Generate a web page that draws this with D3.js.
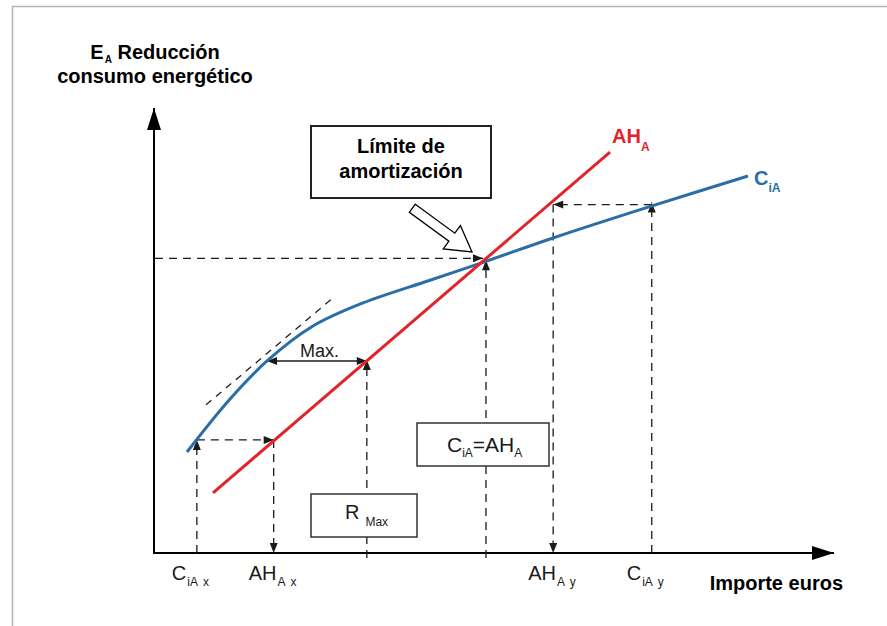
<!DOCTYPE html>
<html><head><meta charset="utf-8">
<script src="https://cdn.jsdelivr.net/npm/d3@7/dist/d3.min.js"></script>
<style>
html,body{margin:0;padding:0;background:#fff;}
svg{display:block;font-family:"Liberation Sans",Arial,Helvetica,sans-serif;}
</style></head>
<body>
<svg id="chart" width="887" height="626"></svg>
<script>
// ---- data (abstract units: importe 0..100, reducción 0..100) ----
const costX  = [4.85, 11.18, 16.62, 23.38, 30.74, 40.59, 48.82, 58.68, 73.24, 87.35];
const costY  = [22.7, 34.6, 43.15, 51.0, 56.2, 61.3, 65.55, 70.79, 78.0, 84.72];
const amortX = [8.68, 67.06];
const amortY = [13.5, 90.1];
const tangentX = [7.65, 26.3];
const tangentY = [33.3, 57.3];
const tickPositions = [6.3, 17.6, 58.7, 73.2];
const tickMain = ["C", "AH", "AH", "C"];
const tickSub  = ["iA", "A", "A", "iA"];
const tickIdx  = ["x", "x", "y", "y"];
const lowLevel = 25.4;      // C_iA x level
const maxLevel = 43.15;     // level of max distance
const maxFromX = 16.62;     // C_iA at max level
const rMaxX = 31.3;         // AH_A at max level
const breakEvenX = 48.82;
const breakEvenY = 65.55;
const highLevel = 78.3;     // C_iA y level

const blue = "#2b6ea6", red = "#e2232a", ink = "#1a1a1a";
const svg = d3.select("#chart");
const x = d3.scaleLinear().domain([0, 100]).range([154, 834]);
const y = d3.scaleLinear().domain([0, 100]).range([553, 108]);

// frame
svg.append("line").attr("x1",12.5).attr("y1",6).attr("x2",12.5).attr("y2",626).attr("stroke","#a8b6c4").attr("stroke-width",1.5);
svg.append("line").attr("x1",12).attr("y1",6.5).attr("x2",887).attr("y2",6.5).attr("stroke","#a8b6c4").attr("stroke-width",1.5);

// markers
const defs = svg.append("defs");
defs.append("marker").attr("id","ah").attr("viewBox","0 0 10 8").attr("refX",10).attr("refY",4)
  .attr("markerWidth",11).attr("markerHeight",8).attr("markerUnits","userSpaceOnUse").attr("orient","auto")
  .append("path").attr("d","M0,0L10,4L0,8Z").attr("fill",ink);
defs.append("marker").attr("id","ahs").attr("viewBox","0 0 10 8").attr("refX",0).attr("refY",4)
  .attr("markerWidth",11).attr("markerHeight",8).attr("markerUnits","userSpaceOnUse").attr("orient","auto")
  .append("path").attr("d","M10,0L0,4L10,8Z").attr("fill",ink);
defs.append("marker").attr("id","axh").attr("viewBox","0 0 22 14").attr("refX",22).attr("refY",7)
  .attr("markerWidth",22).attr("markerHeight",14).attr("markerUnits","userSpaceOnUse").attr("orient","auto")
  .append("path").attr("d","M0,0L22,7L0,14Z").attr("fill","#000");

// axes
svg.append("line").attr("x1",x(0)).attr("y1",y(0)+1).attr("x2",x(0)).attr("y2",y(100))
  .attr("stroke","#000").attr("stroke-width",2).attr("marker-end","url(#axh)");
svg.append("line").attr("x1",x(0)-1).attr("y1",y(0)).attr("x2",x(100)).attr("y2",y(0))
  .attr("stroke","#000").attr("stroke-width",2).attr("marker-end","url(#axh)");

// dashed guides
function dash(x1,y1,x2,y2,arrow){
  const l = svg.append("line").attr("x1",x1).attr("y1",y1).attr("x2",x2).attr("y2",y2)
    .attr("stroke",ink).attr("stroke-width",1.3).attr("stroke-dasharray","8,6");
  if(arrow) l.attr("marker-end","url(#ah)");
  return l;
}
dash(x(tickPositions[0]), y(0), x(tickPositions[0]), y(lowLevel), true);
dash(x(tickPositions[0]), y(lowLevel), x(tickPositions[1]), y(lowLevel), true);
dash(x(tickPositions[1]), y(lowLevel), x(tickPositions[1]), y(0), true);
dash(x(rMaxX), y(0)+5, x(rMaxX), y(maxLevel)-1, true);
dash(x(breakEvenX), y(0)+5, x(breakEvenX), y(breakEvenY)-1, true);
dash(x(0)+1, y(breakEvenY)-3, x(breakEvenX)-3, y(breakEvenY)-3, true);
dash(x(tickPositions[3]), y(0), x(tickPositions[3]), y(highLevel)-2, true);
dash(x(tickPositions[3]), y(highLevel), x(tickPositions[2]), y(highLevel), true);
dash(x(tickPositions[2]), y(highLevel), x(tickPositions[2]), y(0), true);

// tangent
svg.append("path").attr("d", d3.line()(tangentX.map((v,i)=>[x(v), y(tangentY[i])])))
  .attr("fill","none").attr("stroke",ink).attr("stroke-width",1.2).attr("stroke-dasharray","7,6");

// max arrow (double)
svg.append("line").attr("x1",x(maxFromX)).attr("y1",y(maxLevel)).attr("x2",x(rMaxX)).attr("y2",y(maxLevel))
  .attr("stroke",ink).attr("stroke-width",1.3).attr("marker-end","url(#ah)").attr("marker-start","url(#ahs)");
svg.append("text").attr("x",300).attr("y",357)
  .attr("font-size",18).attr("fill",ink).text("Max.");

// curves
const line = d3.line().curve(d3.curveCatmullRom.alpha(0.5));
svg.append("path").attr("d", line(costX.map((v,i)=>[x(v), y(costY[i])])))
  .attr("fill","none").attr("stroke",blue).attr("stroke-width",3);
svg.append("path").attr("d", d3.line()(amortX.map((v,i)=>[x(v), y(amortY[i])])))
  .attr("fill","none").attr("stroke",red).attr("stroke-width",3);

// series labels
const ahl = svg.append("text").attr("x",x(amortX[1])+2).attr("y",143).attr("fill",red).attr("font-weight","bold").attr("font-size",20);
ahl.append("tspan").text("AH");
ahl.append("tspan").attr("font-size",12).attr("dy",8).text("A");
const cl = svg.append("text").attr("x",x(costX[costX.length-1])+6).attr("y",185).attr("fill",blue).attr("font-weight","bold").attr("font-size",20);
cl.append("tspan").text("C");
cl.append("tspan").attr("font-size",12).attr("dy",7).text("iA");

// x tick labels
tickPositions.forEach((p,i)=>{
  const t = svg.append("text").attr("x",x(p)-25).attr("y",580).attr("font-size",20).attr("fill",ink);
  t.append("tspan").text(tickMain[i]);
  t.append("tspan").attr("font-size",12).attr("dy",6).attr("dx",1).text(tickSub[i]);
  t.append("tspan").attr("font-size",12).attr("dx",5).text(tickIdx[i]);
});

// axis titles
const yt = svg.append("g").attr("font-weight","bold").attr("font-size",20).attr("fill","#000");
const l1 = yt.append("text").attr("x",155).attr("y",59).attr("text-anchor","middle");
l1.append("tspan").text("E");
l1.append("tspan").attr("font-size",10).attr("dy",4).attr("dx",1).text("A");
l1.append("tspan").attr("dy",-4).text(" Reducción");
yt.append("text").attr("x",155).attr("y",83).attr("text-anchor","middle").text("consumo energético");
svg.append("text").attr("x",843).attr("y",590).attr("text-anchor","end").attr("font-weight","bold")
  .attr("font-size",20).attr("fill","#000").text("Importe euros");

// boxes
svg.append("rect").attr("x",311).attr("y",126).attr("width",180).attr("height",72)
  .attr("fill","#fff").attr("stroke","#222").attr("stroke-width",2);
const bt = svg.append("text").attr("text-anchor","middle").attr("font-weight","bold").attr("font-size",20).attr("fill","#000");
bt.append("tspan").attr("x",401).attr("y",153).text("Límite de");
bt.append("tspan").attr("x",401).attr("y",178).text("amortización");

// hollow block arrow
const ang = Math.atan2(44, 60) * 180 / Math.PI;
svg.append("path").attr("transform",`translate(472,252) rotate(${ang})`)
  .attr("d","M-74,-5L-25,-5L-25,-14.5L0,0L-25,14.5L-25,5L-74,5Z")
  .attr("fill","#fff").attr("stroke","#000").attr("stroke-width",1.3).attr("stroke-linejoin","miter");

svg.append("rect").attr("x",417).attr("y",423).attr("width",132).attr("height",43)
  .attr("fill","#fff").attr("stroke","#333").attr("stroke-width",1.5);
const eq = svg.append("text").attr("x",447).attr("y",452).attr("font-size",21).attr("fill",ink);
eq.append("tspan").text("C");
eq.append("tspan").attr("font-size",12).attr("dy",5).text("iA");
eq.append("tspan").attr("dy",-5).text("=AH");
eq.append("tspan").attr("font-size",12).attr("dy",5).text("A");

svg.append("rect").attr("x",311).attr("y",494).attr("width",106).attr("height",43)
  .attr("fill","#fff").attr("stroke","#333").attr("stroke-width",1.5);
const rm = svg.append("text").attr("x",345).attr("y",519).attr("font-size",20).attr("fill",ink);
rm.append("tspan").text("R");
rm.append("tspan").attr("font-size",12).attr("dy",7).attr("dx",6).text("Max");
</script>
</body></html>
